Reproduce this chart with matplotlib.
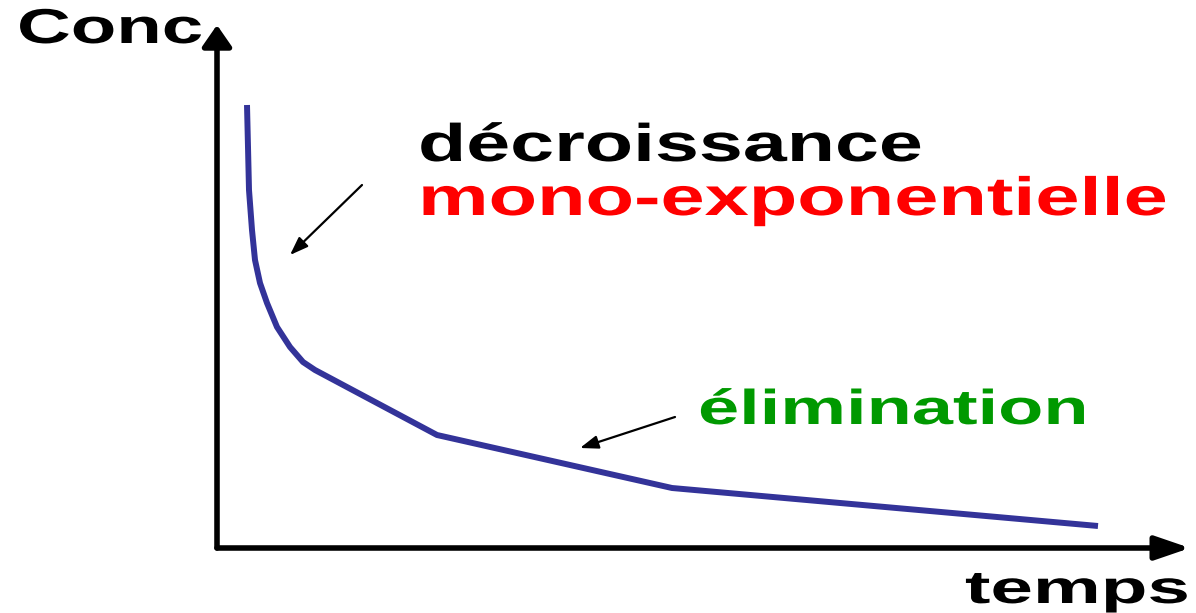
import matplotlib
matplotlib.use("Agg")
import matplotlib.pyplot as plt
from matplotlib.patheffects import AbstractPathEffect
from matplotlib.transforms import Affine2D

# Data (arbitrary units)
temps = [0.30, 0.31, 0.32, 0.35, 0.38, 0.43, 0.50, 0.60, 0.73, 0.86, 0.98, 2.20, 4.55, 8.81]
conc = [4.43, 4.01, 3.58, 3.18, 2.88, 2.65, 2.45, 2.21, 2.01, 1.86, 1.78, 1.13, 0.60, 0.22]

x_max = 9.73
y_max = 5.23

W, H = 1196, 613
fig = plt.figure(figsize=(W / 100, H / 100), dpi=100)
fig.patch.set_facecolor("white")

X0, Y0 = 217, 548
ax = fig.add_axes([X0 / W, (H - Y0) / H, (1190 - X0) / W, (Y0 - 25) / H])
ax.set_xlim(0, x_max)
ax.set_ylim(0, y_max)
ax.axis("off")


class HStretch(AbstractPathEffect):
    """Stretch text horizontally around its left anchor (display px)."""

    def __init__(self, sx, x0):
        super().__init__()
        self.sx = sx
        self.x0 = x0

    def draw_path(self, renderer, gc, tpath, affine, rgbFace=None):
        st = Affine2D().translate(-self.x0, 0).scale(self.sx, 1).translate(self.x0, 0)
        renderer.draw_path(gc, tpath, affine + st, rgbFace)


# axes with arrows
ax.annotate("", xy=(x_max, 0), xytext=(0, 0),
            arrowprops=dict(arrowstyle="-|>,head_length=2.1,head_width=0.72",
                            color="black", lw=4, shrinkA=0, shrinkB=0),
            annotation_clip=False)
ax.annotate("", xy=(0, y_max), xytext=(0, 0),
            arrowprops=dict(arrowstyle="-|>,head_length=1.3,head_width=0.9",
                            color="black", lw=4, shrinkA=0, shrinkB=0),
            annotation_clip=False)

# curve
ax.plot(temps, conc, color="#333399", lw=4.3, solid_capstyle="butt",
        solid_joinstyle="round")

# pointer arrows
ax.annotate("", xy=(0.73, 2.93), xytext=(1.45, 3.63),
            arrowprops=dict(arrowstyle="-|>,head_length=1.1,head_width=0.4",
                            color="black", lw=1.6, shrinkA=0, shrinkB=0))
ax.annotate("", xy=(3.63, 1.00), xytext=(4.58, 1.31),
            arrowprops=dict(arrowstyle="-|>,head_length=1.1,head_width=0.4",
                            color="black", lw=1.6, shrinkA=0, shrinkB=0))

font = "Liberation Sans"
labels = [
    # text, x px, baseline px, em px, stretch, colour
    ("Conc", 17, 43, 49, 1.52, "black"),
    ("décroissance", 418, 161, 53, 1.49, "black"),
    ("mono-exponentielle", 418, 215, 54, 1.47, "#ff0000"),
    ("élimination", 698, 424, 49, 1.51, "#009900"),
    ("temps", 965, 603, 46, 1.66, "black"),
]
for txt, xp, bp, em, sx, col in labels:
    fig.text(xp / W, 1 - bp / H, txt, fontsize=em * 0.72, fontweight="bold",
             family=font, color=col, ha="left", va="baseline",
             path_effects=[HStretch(sx, xp)])

fig.savefig("out.png", dpi=100, facecolor="white")
